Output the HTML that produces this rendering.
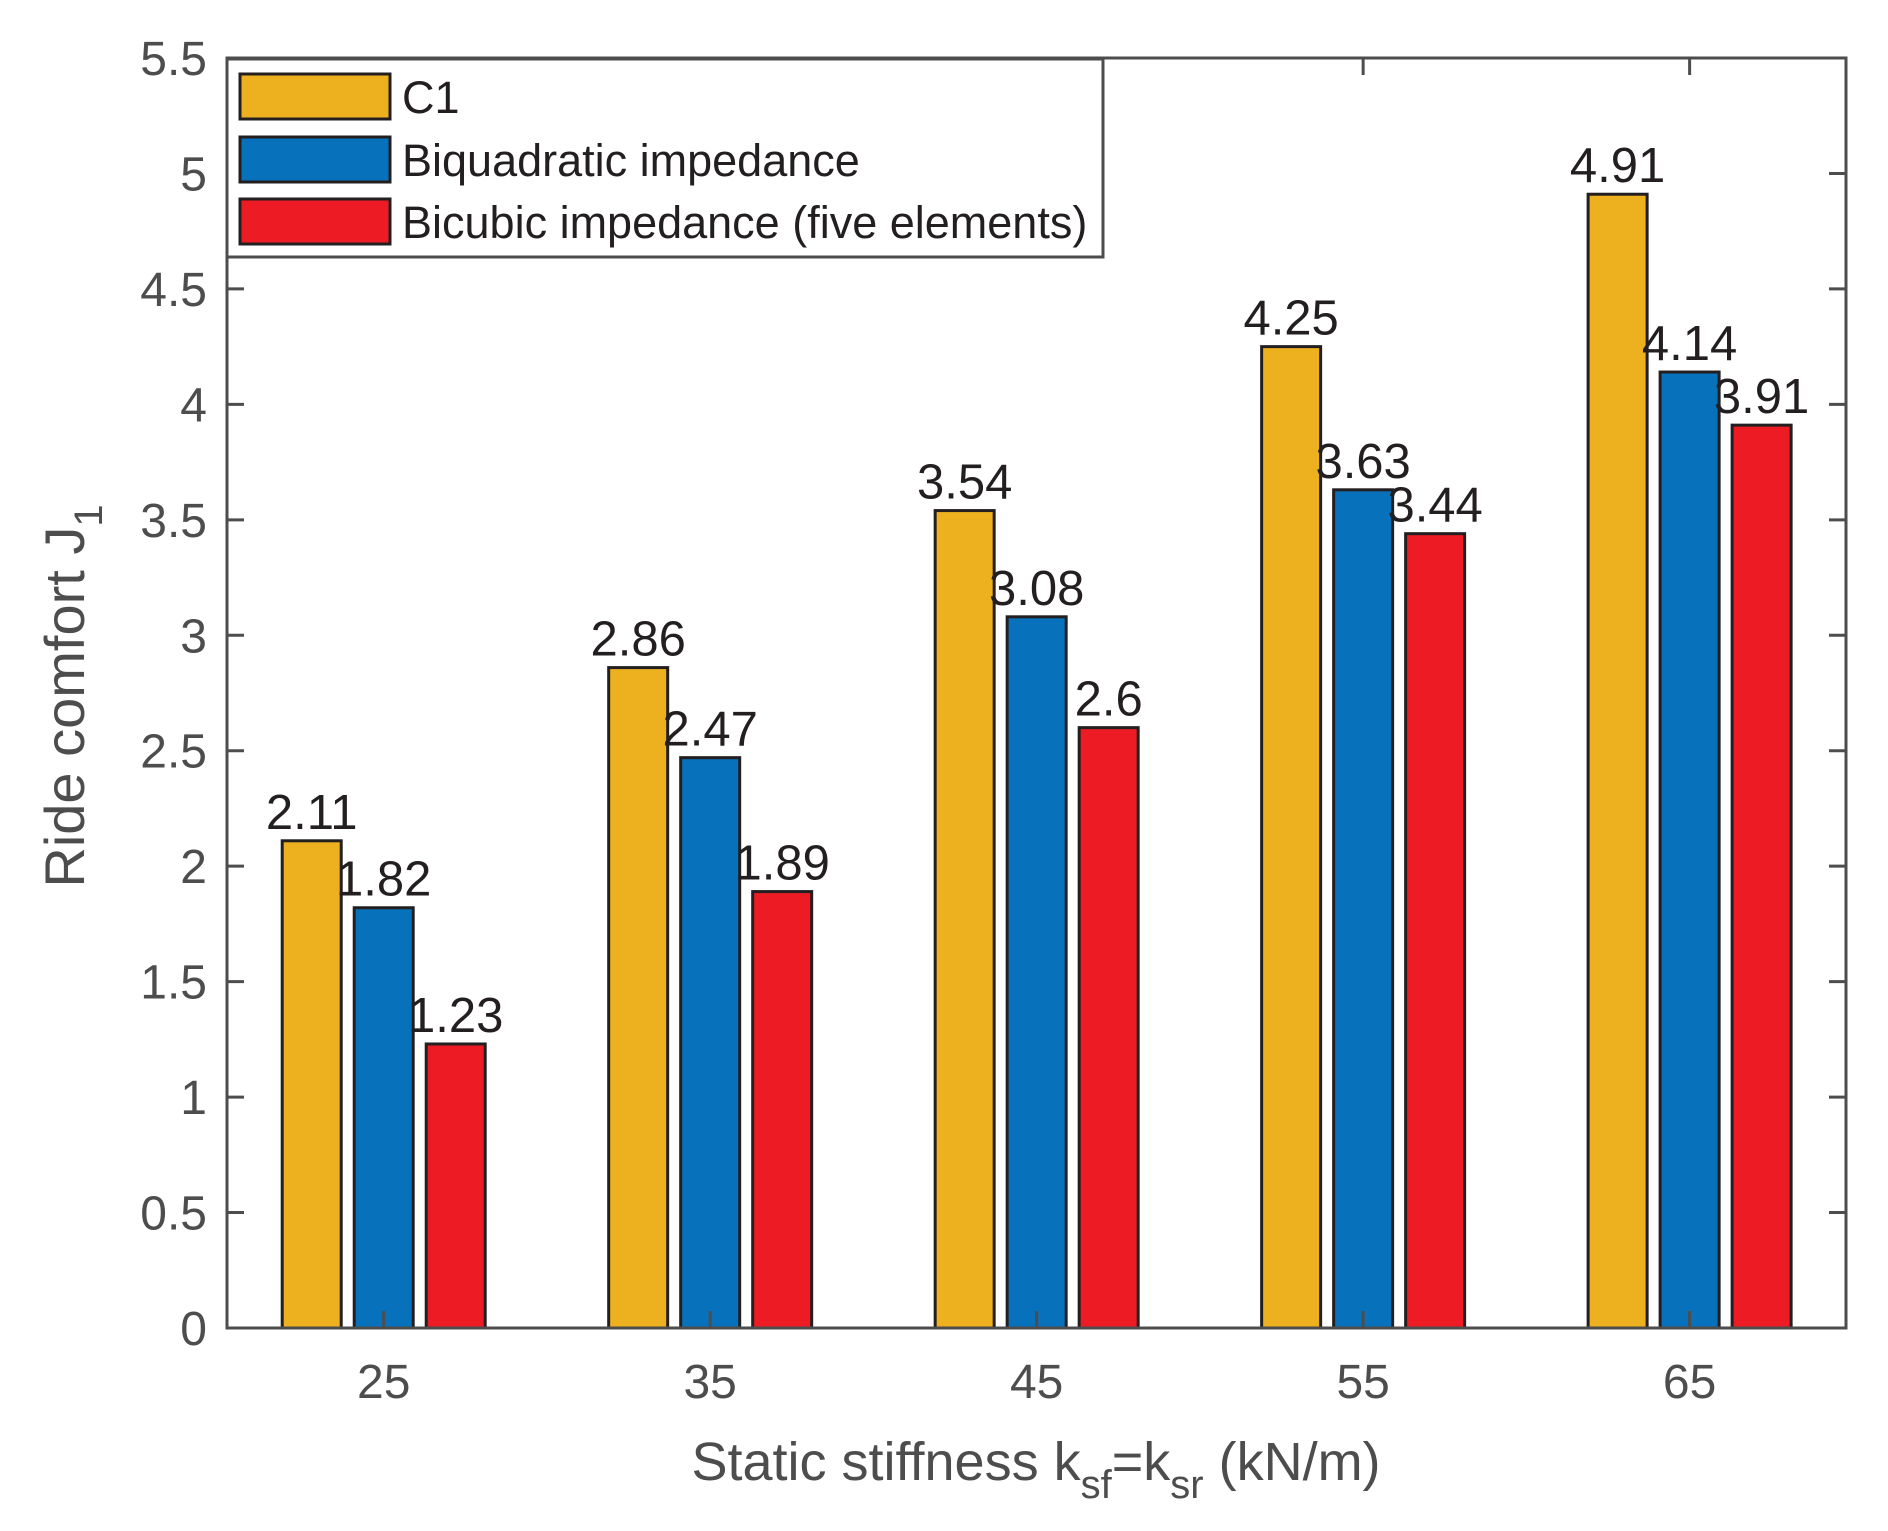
<!DOCTYPE html>
<html><head><meta charset="utf-8"><style>
html,body{margin:0;padding:0;background:#fff}
svg{display:block}
text{font-family:"Liberation Sans",Arial,sans-serif}
</style></head><body>
<svg id="chart" width="1888" height="1531" viewBox="0 0 1888 1531" xmlns="http://www.w3.org/2000/svg">
<g id="plot"></g>
<text x="1036" y="1480" font-size="54" text-anchor="middle" fill="#4d4d4d">Static stiffness k<tspan font-size="40" dy="18">sf</tspan><tspan dy="-18">=k</tspan><tspan font-size="40" dy="18">sr</tspan><tspan dy="-18"> (kN/m)</tspan></text>
<text transform="translate(84,696) rotate(-90)" font-size="56" text-anchor="middle" fill="#4d4d4d">Ride comfort J<tspan font-size="40" dy="18">1</tspan></text>
</svg>
<script>
const categories = [25, 35, 45, 55, 65];
const seriesNames = ["C1", "Biquadratic impedance", "Bicubic impedance (five elements)"];
const c1Values = [2.11, 2.86, 3.54, 4.25, 4.91];
const biquadValues = [1.82, 2.47, 3.08, 3.63, 4.14];
const bicubicValues = [1.23, 1.89, 2.6, 3.44, 3.91];
const yTicks = [0, 0.5, 1, 1.5, 2, 2.5, 3, 3.5, 4, 4.5, 5, 5.5];
const yTickLabels = ["0","0.5","1","1.5","2","2.5","3","3.5","4","4.5","5","5.5"];
const xTickLabels = ["25","35","45","55","65"];

const NS = "http://www.w3.org/2000/svg";
const L = 227, R = 1846, T = 58, B = 1328;
const xMin = 20.2, xMax = 69.79, yMin = 0, yMax = 5.5;
const colors = ["#EDB120", "#0772BB", "#ED1C24"];
const series = [c1Values, biquadValues, bicubicValues];
function xs(v){ return L + (v - xMin) / (xMax - xMin) * (R - L); }
function ys(v){ return B - (v - yMin) / (yMax - yMin) * (B - T); }
const g = document.getElementById('plot');
function mk(tag, attrs, parent){
  const e = document.createElementNS(NS, tag);
  for (const k in attrs) e.setAttribute(k, attrs[k]);
  (parent || g).appendChild(e);
  return e;
}
const unitW = (R - L) / (xMax - xMin);
const offset = 72 / unitW, barW = 59 / unitW;

series.forEach((vals, s) => {
  vals.forEach((v, i) => {
    const cx = categories[i] + (s - 1) * offset;
    const x0 = xs(cx - barW / 2), x1 = xs(cx + barW / 2);
    const r = mk('rect', {x: x0, y: ys(v), width: x1 - x0, height: ys(0) - ys(v), fill: colors[s], stroke: '#231f20', 'stroke-width': 3});
    
    
    const t = mk('text', {x: xs(cx), y: ys(v) - 12, 'font-size': 49, 'text-anchor': 'middle', fill: '#231f20'});
    t.textContent = String(v);
    
    
  });
});

const box = mk('rect', {x: L, y: T, width: R - L, height: B - T, fill: 'none', stroke: '#4d4d4d', 'stroke-width': 3});



yTicks.forEach((v, i) => {
  const y = ys(v);
  mk('line', {x1: L, x2: L + 17, y1: y, y2: y, stroke: '#4d4d4d', 'stroke-width': 3});
  mk('line', {x1: R, x2: R - 17, y1: y, y2: y, stroke: '#4d4d4d', 'stroke-width': 3});
  const t = mk('text', {x: L - 20, y: y + 17, 'font-size': 48, 'text-anchor': 'end', fill: '#4d4d4d'});
  t.textContent = yTickLabels[i];
  
  
});
categories.forEach((c, i) => {
  const x = xs(c);
  mk('line', {x1: x, x2: x, y1: B, y2: B - 17, stroke: '#4d4d4d', 'stroke-width': 3});
  mk('line', {x1: x, x2: x, y1: T, y2: T + 17, stroke: '#4d4d4d', 'stroke-width': 3});
  const t = mk('text', {x: x, y: B + 70, 'font-size': 48, 'text-anchor': 'middle', fill: '#4d4d4d'});
  t.textContent = xTickLabels[i];
  
  
});

const lg = mk('g', {});


mk('rect', {x: 227, y: 59, width: 876, height: 198, fill: '#fff', stroke: '#4d4d4d', 'stroke-width': 3}, lg);
const lys = [74, 137, 199];
seriesNames.forEach((n, s) => {
  const e = mk('g', {}, lg);
  
  
  mk('rect', {x: 240, y: lys[s], width: 150, height: 45, fill: colors[s], stroke: '#231f20', 'stroke-width': 3}, e);
  const t = mk('text', {x: 402, y: lys[s] + 39, 'font-size': 45, fill: '#231f20'}, e);
  t.textContent = n;
});
</script>
</body></html>
